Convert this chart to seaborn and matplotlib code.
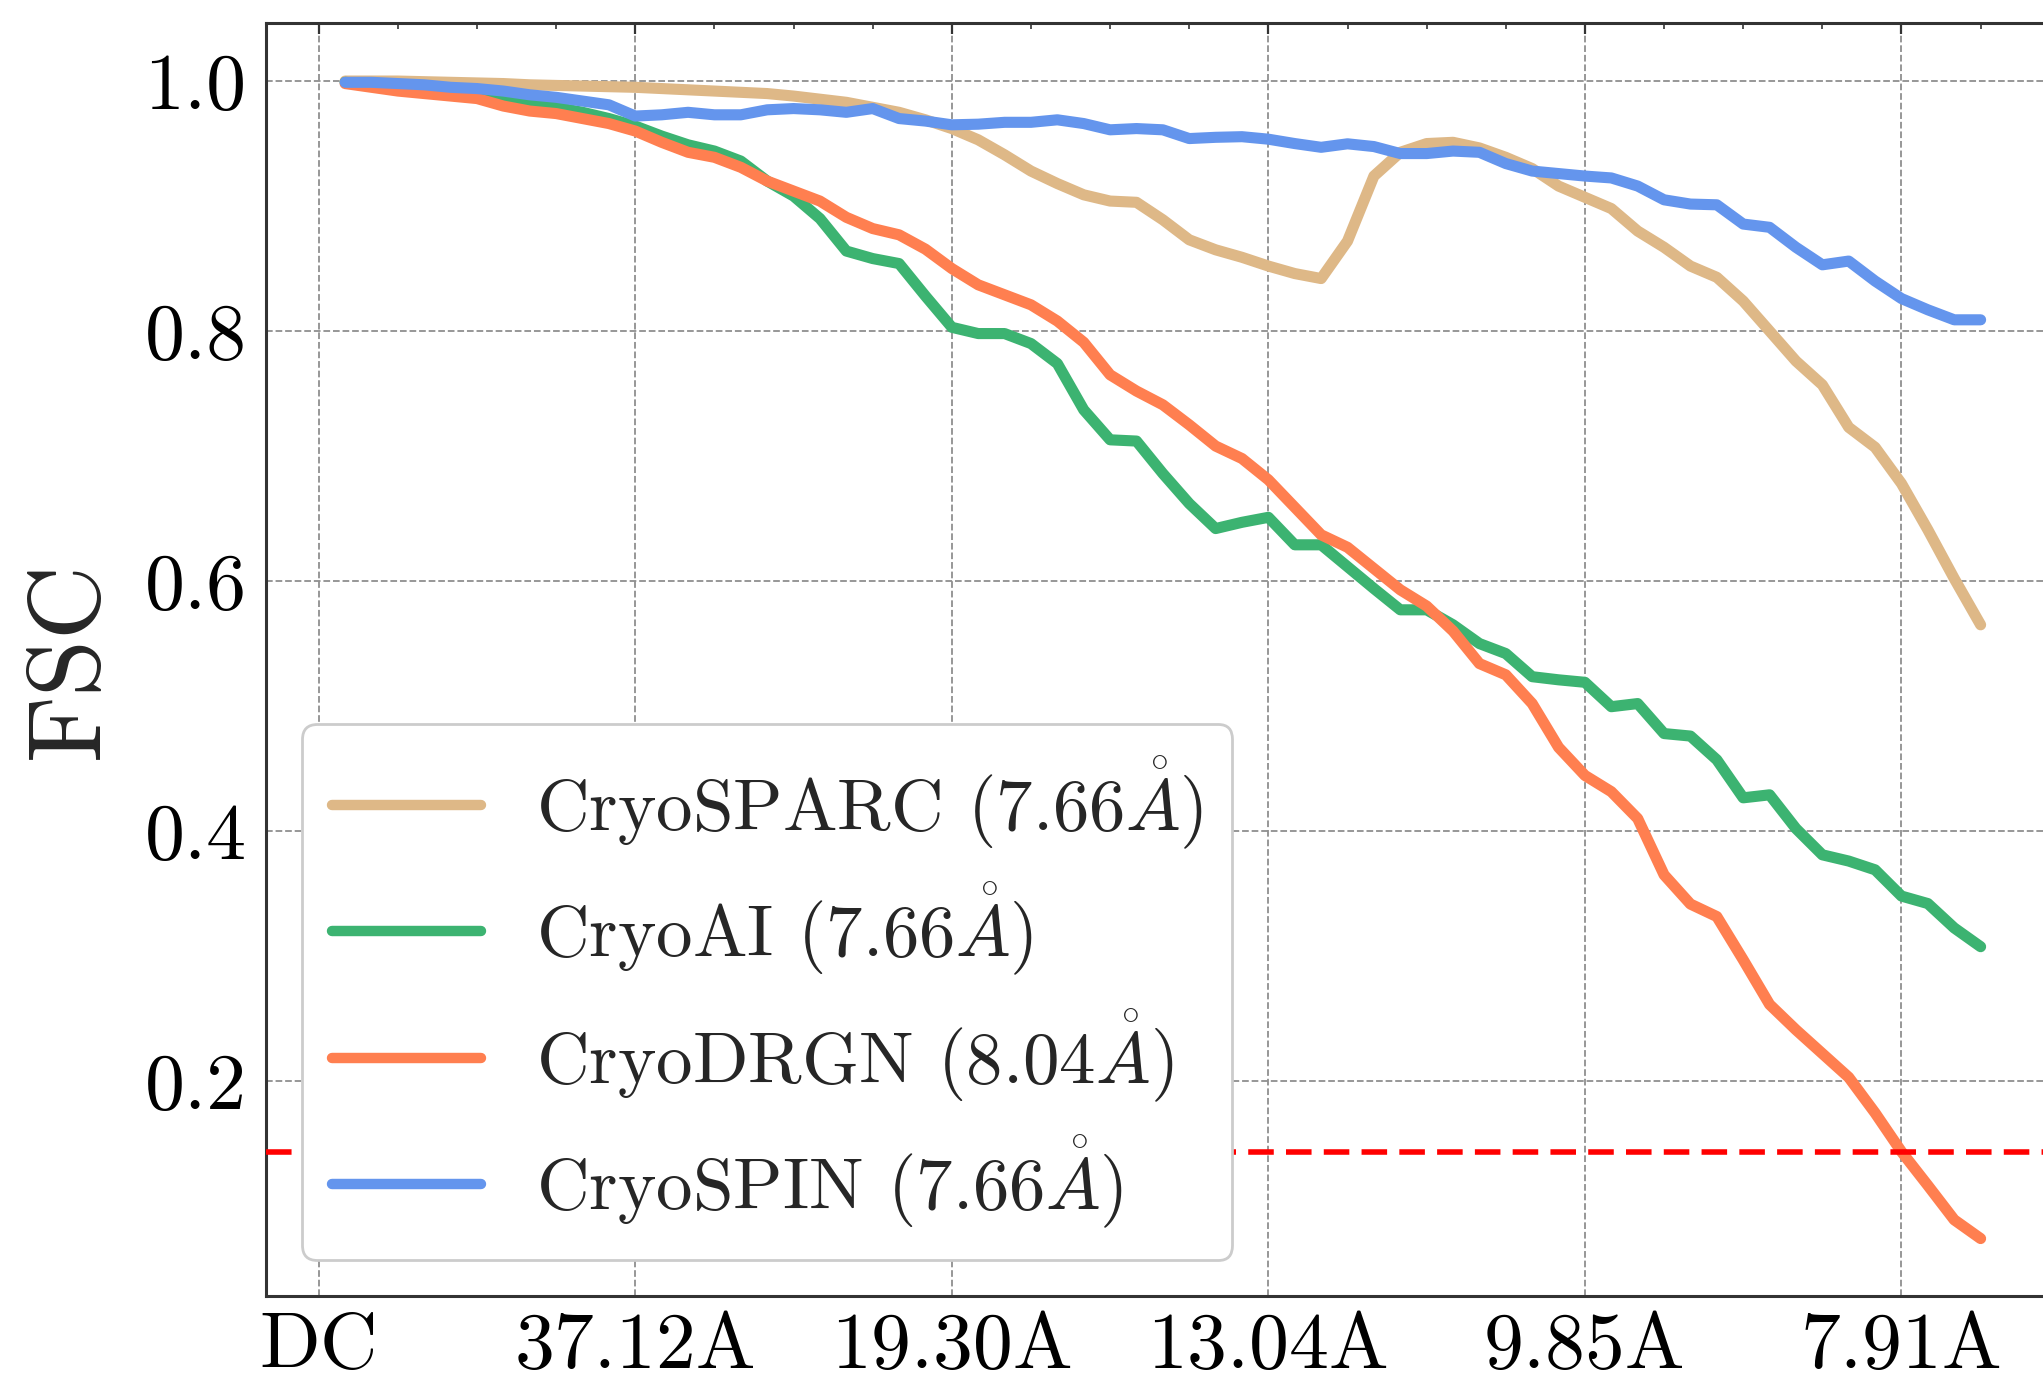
import numpy as np
import pandas as pd
import matplotlib
matplotlib.use("Agg")
import matplotlib.pyplot as plt
import seaborn as sns
from matplotlib.ticker import MultipleLocator

# ---------------- data ----------------
shell = list(range(1, 64))

cryosparc = [1.000, 1.000, 1.000, 0.9995, 0.999, 0.9985, 0.998, 0.997, 0.9965, 0.996,
             0.9955, 0.995, 0.994, 0.993, 0.992, 0.991, 0.990, 0.988, 0.9855, 0.983,
             0.979, 0.975, 0.969, 0.962, 0.953, 0.941, 0.928, 0.918, 0.909, 0.904,
             0.903, 0.889, 0.873, 0.865, 0.859, 0.852, 0.846, 0.842, 0.872, 0.924,
             0.943, 0.950, 0.951, 0.9465, 0.939, 0.930, 0.916, 0.907, 0.898, 0.880,
             0.867, 0.852, 0.843, 0.824, 0.800, 0.776, 0.757, 0.723, 0.707, 0.678,
             0.641, 0.602, 0.565]

cryoai = [0.999, 0.997, 0.995, 0.993, 0.991, 0.989, 0.986, 0.983, 0.979, 0.975,
          0.970, 0.964, 0.956, 0.949, 0.944, 0.936, 0.920, 0.908, 0.890, 0.864,
          0.858, 0.854, 0.828, 0.803, 0.798, 0.798, 0.790, 0.774, 0.737, 0.713,
          0.712, 0.686, 0.662, 0.642, 0.647, 0.651, 0.629, 0.629, 0.6115, 0.594,
          0.577, 0.577, 0.565, 0.550, 0.542, 0.5235, 0.521, 0.519, 0.4995, 0.502,
          0.478, 0.476, 0.457, 0.4266, 0.429, 0.402, 0.381, 0.376, 0.369, 0.348,
          0.342, 0.3225, 0.3075]

cryodrgn = [0.998, 0.995, 0.992, 0.990, 0.988, 0.986, 0.980, 0.976, 0.974, 0.970,
            0.966, 0.960, 0.951, 0.943, 0.939, 0.931, 0.920, 0.912, 0.904, 0.891,
            0.882, 0.877, 0.8655, 0.850, 0.837, 0.829, 0.821, 0.808, 0.791, 0.765,
            0.752, 0.741, 0.725, 0.708, 0.698, 0.681, 0.659, 0.637, 0.627, 0.610,
            0.593, 0.580, 0.560, 0.534, 0.525, 0.502, 0.467, 0.4445, 0.4315, 0.410,
            0.365, 0.3416, 0.3316, 0.297, 0.2613, 0.241, 0.222, 0.203, 0.1745, 0.1435,
            0.1165, 0.089, 0.074]

cryospin = [0.999, 0.999, 0.998, 0.997, 0.995, 0.994, 0.992, 0.989, 0.987, 0.984,
            0.981, 0.972, 0.973, 0.975, 0.973, 0.973, 0.977, 0.978, 0.977, 0.975,
            0.978, 0.970, 0.968, 0.965, 0.9655, 0.967, 0.967, 0.969, 0.966, 0.961,
            0.962, 0.961, 0.954, 0.955, 0.9555, 0.9535, 0.950, 0.947, 0.9498, 0.9476,
            0.942, 0.942, 0.944, 0.943, 0.934, 0.928, 0.926, 0.924, 0.9225, 0.916,
            0.905, 0.9016, 0.901, 0.8856, 0.883, 0.867, 0.853, 0.856, 0.840, 0.826,
            0.817, 0.809, 0.809]

methods = ["CryoSPARC (7.66$\\mathring{A}$)", "CryoAI (7.66$\\mathring{A}$)",
           "CryoDRGN (8.04$\\mathring{A}$)", "CryoSPIN (7.66$\\mathring{A}$)"]
series = [cryosparc, cryoai, cryodrgn, cryospin]
colors = ["burlywood", "mediumseagreen", "coral", "cornflowerblue"]

x_tick_pos = [0, 12, 24, 36, 48, 60]
x_tick_labels = ["DC", "37.12A", "19.30A", "13.04A", "9.85A", "7.91A"]
y_tick_pos = [0.2, 0.4, 0.6, 0.8, 1.0]
y_tick_labels = ["0.2", "0.4", "0.6", "0.8", "1.0"]
threshold = 0.143

# ---------------- style ----------------
sns.set_theme(style="white")
plt.rcParams.update({
    "font.family": ["cmr10", "DejaVu Serif"],
    "mathtext.fontset": "cm",
    "axes.formatter.use_mathtext": True,
    "axes.unicode_minus": False,
    "xtick.direction": "in",
    "ytick.direction": "in",
    "xtick.top": True,
    "ytick.right": True,
    "axes.edgecolor": "#333333",
})

df = pd.concat([pd.DataFrame({"shell": shell, "FSC": s, "method": m})
                for s, m in zip(series, methods)], ignore_index=True)

fig = plt.figure(figsize=(20.43, 13.81), dpi=100)
ax = fig.add_axes([0.1302, 0.0615, 0.878, 0.9218])

sns.lineplot(data=df, x="shell", y="FSC", hue="method", hue_order=methods,
             palette=dict(zip(methods, colors)), linewidth=8.0,
             estimator=None, sort=False, ax=ax)

ax.axhline(threshold, color="red", linestyle=(0, (4.6, 2.2)), linewidth=4.0, zorder=3)

ax.set_xlim(-2, 66)
ax.set_ylim(0.028, 1.0464)
ax.set_xticks(x_tick_pos)
ax.set_xticklabels(x_tick_labels)
ax.set_yticks(y_tick_pos)
ax.set_yticklabels(y_tick_labels)
ax.xaxis.set_minor_locator(MultipleLocator(3))
ax.yaxis.set_minor_locator(MultipleLocator(0.05))

ax.tick_params(which="major", length=8, width=1.6, labelsize=57.5, pad=14,
               colors="#333333", labelcolor="black")
ax.tick_params(which="minor", length=4.5, width=1.2, colors="#333333",
               top=True, right=True)
ax.tick_params(axis="x", which="major", pad=12)

for sp in ax.spines.values():
    sp.set_linewidth(2.2)

ax.set_axisbelow(True)
ax.grid(True, which="major", linestyle="--", color="#8f8f8f", linewidth=1.3)

ax.set_xlabel("")
ax.set_ylabel("FSC", fontsize=74, labelpad=20)

handles, labels = ax.get_legend_handles_labels()
leg = ax.legend(handles, labels, loc="lower left", fontsize=52.5, frameon=True,
                fancybox=True, framealpha=1.0, edgecolor="#cccccc",
                borderpad=0.4, handlelength=2.05, handletextpad=0.75,
                labelspacing=0.40, borderaxespad=0.5)
leg.get_frame().set_linewidth(2.0)
for h in leg.get_lines():
    h.set_linewidth(7.5)

fig.savefig("out.png", dpi=100)
